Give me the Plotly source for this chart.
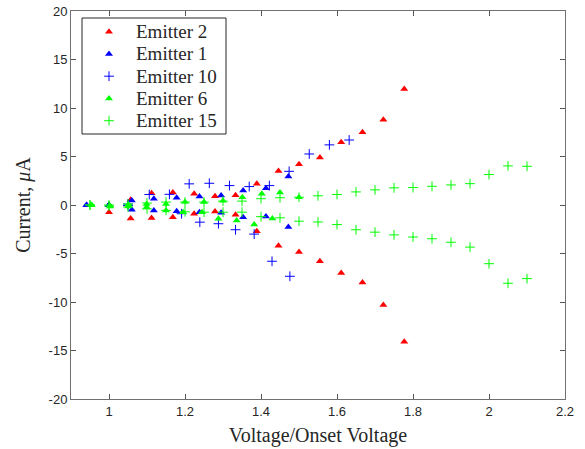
import plotly.graph_objects as go

# Emitter 2 (positive and negative current branches)
e2_v_pos = [1.0, 1.057, 1.112, 1.168, 1.224, 1.279, 1.333, 1.389, 1.446, 1.5, 1.555, 1.611, 1.667, 1.722, 1.777]
e2_i_pos = [0.0, 0.55, 1.2, 1.3, 1.15, 0.9, 1.0, 2.2, 3.5, 4.2, 4.9, 6.46, 7.5, 8.8, 11.95]
e2_v_neg = [1.0, 1.057, 1.112, 1.168, 1.224, 1.279, 1.333, 1.389, 1.446, 1.5, 1.555, 1.611, 1.667, 1.722, 1.777]
e2_i_neg = [-0.75, -1.4, -1.35, -1.25, -0.9, -0.67, -1.0, -2.7, -4.2, -4.85, -5.8, -7.0, -8.0, -10.3, -14.1]

# Emitter 1
e1_v_pos = [0.941, 1.0, 1.06, 1.118, 1.178, 1.238, 1.295, 1.353, 1.413, 1.472]
e1_i_pos = [0.0, 0.0, 0.46, 0.64, 0.74, 0.87, 0.98, 1.5, 1.73, 2.93]
e1_v_neg = [0.941, 1.0, 1.06, 1.118, 1.178, 1.238, 1.295, 1.353, 1.413, 1.472]
e1_i_neg = [0.0, 0.0, -0.5, -0.57, -0.64, -0.74, -0.8, -1.25, -1.18, -2.28]

# Emitter 10
e10_v_pos = [1.05, 1.106, 1.159, 1.211, 1.264, 1.317, 1.369, 1.422, 1.474, 1.527, 1.58, 1.632]
e10_i_pos = [0.1, 1.08, 1.1, 2.18, 2.24, 2.0, 1.9, 2.0, 3.47, 5.26, 6.2, 6.7]
e10_v_neg = [1.05, 1.191, 1.239, 1.288, 1.333, 1.382, 1.429, 1.476]
e10_i_neg = [-0.05, -0.9, -1.77, -1.93, -2.55, -3.0, -5.8, -7.35]

# Emitter 6
e6_v_pos = [0.954, 1.003, 1.051, 1.099, 1.15, 1.2, 1.25, 1.3, 1.351, 1.402, 1.45, 1.5]
e6_i_pos = [0.0, -0.1, 0.05, 0.1, 0.1, 0.3, 0.3, 0.45, 0.8, 1.15, 1.3, 0.8]
e6_v_neg = [0.954, 1.003, 1.051, 1.099, 1.15, 1.195, 1.245, 1.288, 1.336, 1.382, 1.43]
e6_i_neg = [0.0, -0.15, -0.15, -0.2, -0.57, -0.74, -0.74, -1.42, -1.6, -2.0, -1.4]

# Emitter 15
e15_v = [0.95, 1.0, 1.05, 1.1, 1.15, 1.2, 1.25, 1.3, 1.35, 1.4, 1.45, 1.5,
         1.55, 1.6, 1.65, 1.7, 1.75, 1.8, 1.85, 1.9, 1.95, 2.0, 2.05, 2.1]
e15_i_pos = [0.0, 0.0, 0.1, 0.2, 0.3, 0.3, 0.3, 0.4, 0.4, 0.65, 0.75, 0.8,
             0.95, 1.08, 1.35, 1.56, 1.77, 1.8, 1.93, 2.07, 2.2, 3.14, 4.03, 3.99]
e15_i_neg = [0.0, -0.1, -0.2, -0.4, -0.55, -0.7, -0.74, -0.74, -0.74, -1.2, -1.32, -1.67,
             -1.75, -2.02, -2.55, -2.8, -3.08, -3.3, -3.48, -3.84, -4.34, -6.05, -8.07, -7.59]

x_ticks = [1, 1.2, 1.4, 1.6, 1.8, 2, 2.2]
x_tick_text = ["1", "1.2", "1.4", "1.6", "1.8", "2", "2.2"]
y_ticks = [-20, -15, -10, -5, 0, 5, 10, 15, 20]
y_tick_text = ["-20", "-15", "-10", "-5", "0", "5", "10", "15", "20"]

RED, BLUE, GREEN = "#ff0000", "#0000ff", "#00ff00"
SERIF = "Liberation Serif"
SANS = "Liberation Sans"
INK = "#262626"

W, H = 585, 449
M_L, M_R, M_T, M_B = 71, 20, 11, 50
PLOT_W, PLOT_H = W - M_L - M_R, H - M_T - M_B


def fx(px):
    """Pixel column -> paper x."""
    return (px - M_L) / PLOT_W


def fy(py):
    """Pixel row -> paper y."""
    return (H - M_B - py) / PLOT_H


series = [
    ("Emitter 2", e2_v_pos + e2_v_neg, e2_i_pos + e2_i_neg, RED, "triangle"),
    ("Emitter 1", e1_v_pos + e1_v_neg, e1_i_pos + e1_i_neg, BLUE, "triangle"),
    ("Emitter 10", e10_v_pos + e10_v_neg, e10_i_pos + e10_i_neg, BLUE, "plus"),
    ("Emitter 6", e6_v_pos + e6_v_neg, e6_i_pos + e6_i_neg, GREEN, "triangle"),
    ("Emitter 15", e15_v + e15_v, e15_i_pos + e15_i_neg, GREEN, "plus"),
]


def marker_style(color, kind):
    if kind == "triangle":
        return dict(symbol="triangle-up", size=7, color=color, line=dict(width=0))
    return dict(symbol="cross-thin", size=7, color=color, line=dict(width=1, color=color))


fig = go.Figure()
for name, xs, ys, color, kind in series:
    fig.add_trace(go.Scatter(x=xs, y=ys, mode="markers", name=name,
                             marker=marker_style(color, kind), showlegend=False))

# Boxed legend in the upper-left corner (serif labels, like LaTeX text)
LEG_LEFT, LEG_RIGHT, LEG_TOP, LEG_BOTTOM = 82, 226, 18, 134
ROW0, ROW_STEP = 31.7, 22.25
SWATCH_X, TEXT_X = 109, 134

fig.add_shape(type="rect", xref="paper", yref="paper",
              x0=fx(LEG_LEFT), x1=fx(LEG_RIGHT), y0=fy(LEG_BOTTOM), y1=fy(LEG_TOP),
              line=dict(color=INK, width=1), fillcolor="white", layer="below")
for k, (name, _, _, color, kind) in enumerate(series):
    row = ROW0 + k * ROW_STEP
    fig.add_trace(go.Scatter(x=[fx(SWATCH_X)], y=[fy(row)], mode="markers",
                             marker=marker_style(color, kind), xaxis="x2", yaxis="y2",
                             showlegend=False, hoverinfo="skip"))
    fig.add_annotation(x=fx(TEXT_X), y=fy(row), xref="paper", yref="paper",
                       text=name, showarrow=False, xanchor="left", yanchor="middle",
                       font=dict(family=SERIF, size=19, color=INK))

axis_style = dict(
    showline=True, linecolor="#707070", linewidth=1, mirror="ticks",
    ticks="inside", ticklen=5, tickcolor="#555555", tickwidth=1,
    showgrid=False, zeroline=False, automargin=False,
    tickfont=dict(family=SANS, size=13, color=INK),
)

fig.update_layout(
    width=W, height=H,
    font=dict(family=SERIF, size=16, color=INK),
    margin=dict(l=M_L, r=M_R, t=M_T, b=M_B),
    paper_bgcolor="white", plot_bgcolor="white",
    showlegend=False,
    xaxis=dict(range=[0.9, 2.2], tickvals=x_ticks, ticktext=x_tick_text,
               title=dict(text="Voltage/Onset Voltage", standoff=10,
                          font=dict(family=SERIF, size=20, color=INK)),
               **axis_style),
    yaxis=dict(range=[-20, 20], tickvals=y_ticks, ticktext=y_tick_text,
               title=dict(text="Current, <i>μ</i>A", standoff=12,
                          font=dict(family=SERIF, size=20, color=INK)),
               **axis_style),
    xaxis2=dict(overlaying="x", range=[0, 1], visible=False, fixedrange=True),
    yaxis2=dict(overlaying="y", range=[0, 1], visible=False, fixedrange=True),
)

fig.write_html("out.html")
